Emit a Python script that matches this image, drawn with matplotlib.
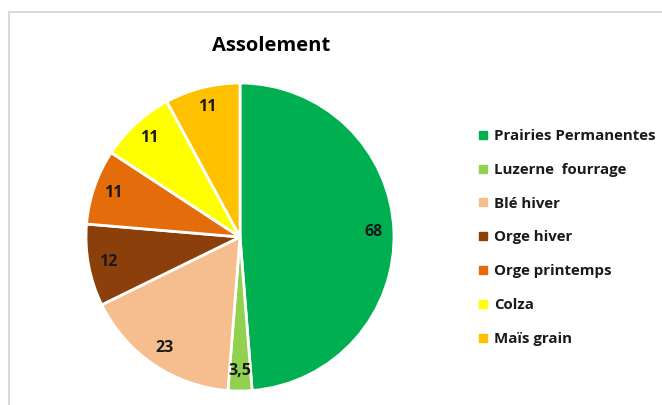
import matplotlib
matplotlib.use("Agg")
import matplotlib.pyplot as plt
from matplotlib.lines import Line2D

categories = ["Prairies Permanentes", "Luzerne  fourrage", "Blé hiver", "Orge hiver",
              "Orge printemps", "Colza", "Maïs grain"]
values = [68, 3.5, 23, 12, 11, 11, 11]
colors = ["#00B050", "#92D050", "#F6BD8E", "#8B400C", "#E46C0A", "#FFFF00", "#FFC000"]
title = "Assolement"

plt.rcParams['font.family'] = ['Open Sans', 'DejaVu Sans']

fig = plt.figure(figsize=(6.62, 4.05), dpi=100)
fig.patch.set_facecolor("white")

# frame border
fig.add_artist(Line2D([9/662, 9/662], [0, 1-12/405], transform=fig.transFigure,
                      color="#D9D9D9", lw=1.5))
fig.add_artist(Line2D([9/662, 1], [1-12/405, 1-12/405], transform=fig.transFigure,
                      color="#D9D9D9", lw=1.5))

cx, cy, r = 240, 237, 154
ax = fig.add_axes([(cx-r)/662, (405-cy-r)/405, 2*r/662, 2*r/405])
total = sum(values)

def fmt(p):
    v = round(p*total/100, 1)
    s = f"{v:g}".replace(".", ",")
    return s

wedges, texts, autotexts = ax.pie(values, colors=colors, startangle=90, counterclock=False,
                                  autopct=fmt, pctdistance=0.87,
                                  wedgeprops=dict(edgecolor="white", linewidth=2),
                                  textprops=dict(fontsize=11.5, fontweight="bold", color="#1a1a1a"))
ax.set_xlim(-1.0, 1.0)
ax.set_ylim(-1.0, 1.0)
ax.set_aspect("equal")

fig.text(271/662, 1-46/405, title, ha="center", va="center", fontsize=14.5, fontweight="bold",
         color="black")

handles = [Line2D([], [], marker="s", linestyle="none", markersize=6, markerfacecolor=c,
                  markeredgecolor=c) for c in colors]
leg = fig.legend(handles, categories, loc="upper left", bbox_to_anchor=(478/662, 1-129/405),
                 frameon=False, handlelength=0.6, handletextpad=0.45, labelspacing=1.32,
                 prop=dict(size=10.8, weight="bold"), borderaxespad=0, borderpad=0)
for t in leg.get_texts():
    t.set_color("#1a1a1a")

fig.savefig("out.png", dpi=100, facecolor="white")
